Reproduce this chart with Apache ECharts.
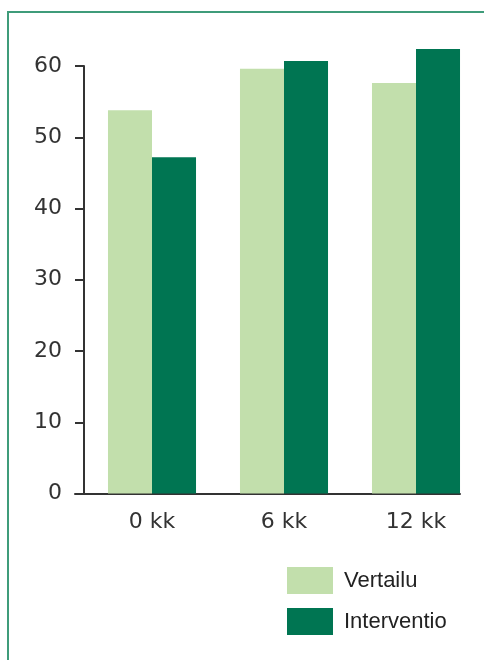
<!DOCTYPE html>
<html>
<head>
<meta charset="utf-8">
<script src="https://cdn.jsdelivr.net/npm/echarts@6/dist/echarts.min.js"></script>
<style>
  html, body { margin: 0; padding: 0; background: #ffffff; }
  #chart { width: 484px; height: 660px; }
</style>
</head>
<body>
<div id="chart"></div>
<script>
// Time points and group averages
const categories = ['0 kk', '6 kk', '12 kk'];
const vertailu = [53.8, 59.6, 57.6];
const interventio = [47.2, 60.7, 62.4];
const yTicks = [0, 10, 20, 30, 40, 50, 60];

const LIGHT = '#c2dfac';
const DARK = '#007552';
const AXIS = '#333333';
const TICK_FONT = '"DejaVu Sans", sans-serif';

const chart = echarts.init(document.getElementById('chart'), null, { renderer: 'canvas' });

chart.setOption({
  animation: false,
  backgroundColor: '#ffffff',
  // Thin green frame around the figure
  graphic: [{
    type: 'rect',
    shape: { x: 8, y: 12, width: 520, height: 700 },
    style: { fill: 'none', stroke: '#3f9c7a', lineWidth: 2 },
    silent: true
  }],
  legend: {
    orient: 'vertical',
    left: 287,
    top: 567,
    padding: 0,
    itemWidth: 46,
    itemHeight: 27,
    itemGap: 14,
    icon: 'rect',
    textStyle: {
      fontFamily: '"Liberation Sans", Arial, sans-serif',
      fontSize: 22,
      color: '#222222',
      padding: [0, 0, 0, 6]
    },
    data: ['Vertailu', 'Interventio']
  },
  grid: [
    { left: 86, width: 396, top: 66, height: 427.5, containLabel: false },
    // baseline grid: carries the horizontal axis line only
    { left: 75, width: 385, top: 66, height: 427.5, containLabel: false }
  ],
  xAxis: [{
    type: 'category',
    gridIndex: 0,
    data: categories,
    axisLine: { show: false },
    axisTick: { show: false },
    axisLabel: {
      margin: 18,
      fontFamily: TICK_FONT,
      fontSize: 22,
      color: AXIS
    }
  }, {
    type: 'value',
    gridIndex: 1,
    min: 0,
    max: 1,
    axisLine: { show: true, lineStyle: { color: AXIS, width: 2 } },
    axisTick: { show: false },
    axisLabel: { show: false },
    splitLine: { show: false }
  }],
  yAxis: [{
    type: 'value',
    gridIndex: 0,
    min: yTicks[0],
    max: yTicks[yTicks.length - 1],
    interval: 10,
    offset: 2,
    axisLine: { show: true, lineStyle: { color: AXIS, width: 2 } },
    axisTick: { show: true, length: 9, lineStyle: { color: AXIS, width: 2 } },
    axisLabel: {
      margin: 22,
      fontFamily: TICK_FONT,
      fontSize: 22,
      color: AXIS,
      formatter: v => yTicks.includes(v) ? String(v) : ''
    },
    splitLine: { show: false }
  }, {
    type: 'value',
    gridIndex: 1,
    show: false,
    min: 0,
    max: 1
  }],
  series: [{
    name: 'Vertailu',
    type: 'bar',
    xAxisIndex: 0,
    yAxisIndex: 0,
    data: vertailu,
    itemStyle: { color: LIGHT },
    barGap: '0%',
    barCategoryGap: '33.3%',
    clip: false
  }, {
    name: 'Interventio',
    type: 'bar',
    xAxisIndex: 0,
    yAxisIndex: 0,
    data: interventio,
    itemStyle: { color: DARK },
    barGap: '0%',
    barCategoryGap: '33.3%',
    clip: false
  }]
});
</script>
</body>
</html>
